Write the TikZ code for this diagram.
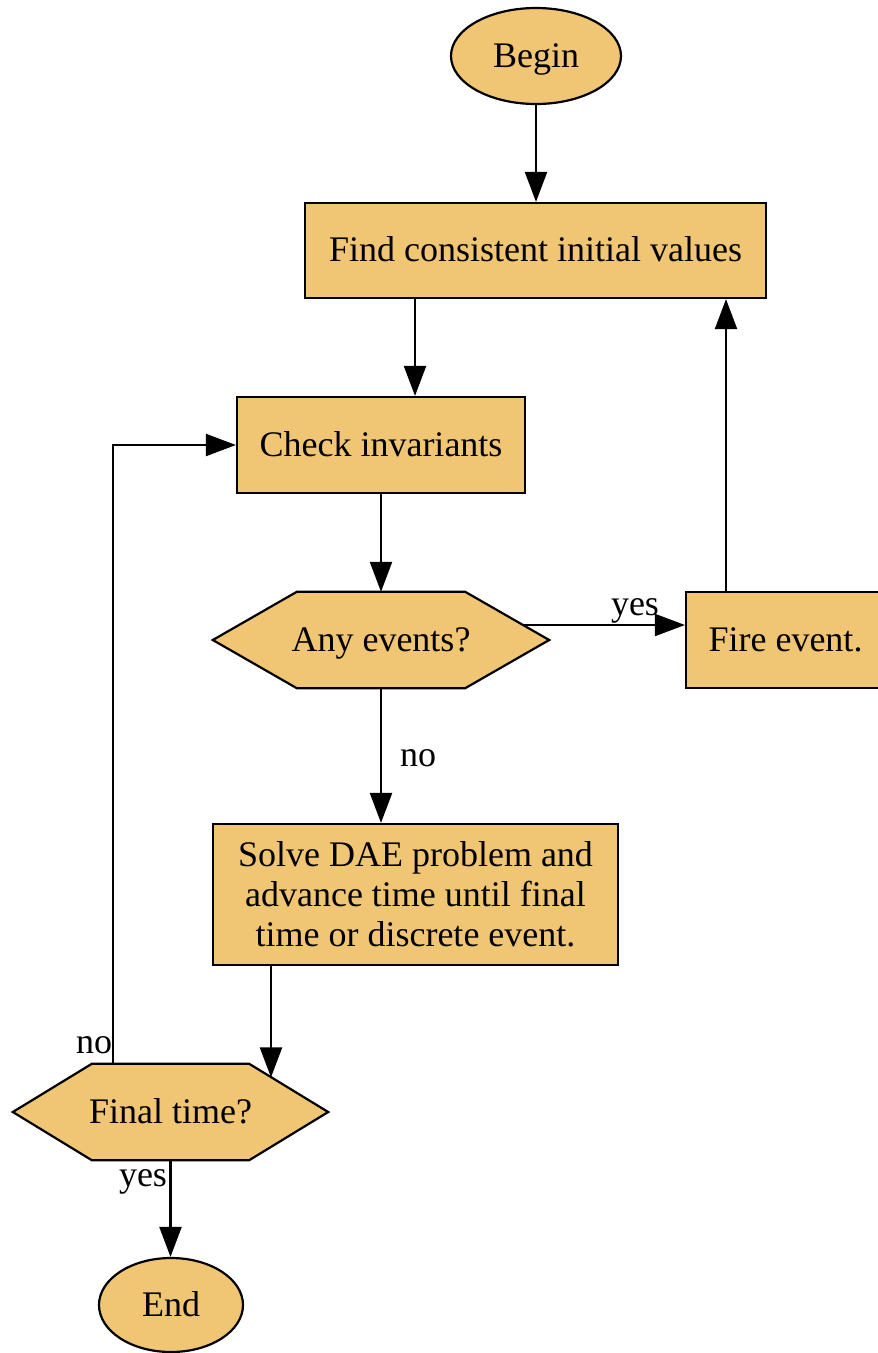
\documentclass[tikz,border=0pt]{standalone}
\usepackage{fontspec}
\setmainfont{Liberation Serif}
\usetikzlibrary{arrows.meta,shapes.geometric,backgrounds}
\definecolor{boxfill}{RGB}{240,198,116}
% hexagon outline drawn round a named node; #2 is the inset of the slanted sides
\newcommand\hexaround[2]{%
  \draw[hexline] (#1.west) -- ([xshift=#2]#1.north west) -- ([xshift=-#2]#1.north east)
    -- (#1.east) -- ([xshift=-#2]#1.south east) -- ([xshift=#2]#1.south west) -- cycle;}
\begin{document}
\begin{tikzpicture}[x=1pt,y=-1pt,
  every node/.style={font=\fontsize{36}{40}\selectfont},
  oneline/.style={text height=31pt, text depth=9pt},
  shapebox/.style={draw=black, fill=boxfill, line width=2.2pt, inner sep=0pt, align=center},
  procbox/.style={shapebox, rectangle},
  termbox/.style={shapebox, ellipse, oneline},
  decbox/.style={rectangle, inner sep=0pt, align=center, oneline},
  hexline/.style={draw=black, fill=boxfill, line width=2.2pt},
  flow/.style={line width=2.2pt, -{Triangle[length=30pt,width=22pt]}},
  lbl/.style={inner sep=0pt, anchor=base}
]
\useasboundingbox (0,0) rectangle (878,1353);
\clip (0,0) rectangle (878,1353);

% nodes
\node[termbox, minimum width=170pt, minimum height=96pt] (begin) at (536,56) {Begin};
\node[procbox, oneline, minimum width=461pt, minimum height=95pt] (find) at (535.5,250.5) {Find consistent initial values};
\node[procbox, oneline, minimum width=288pt, minimum height=96pt] (check) at (381,445) {Check invariants};
\node[decbox, minimum width=336pt, minimum height=96pt] (any) at (381,640) {Any events?};
\node[procbox, oneline, minimum width=199pt, minimum height=96pt] (fire) at (785.5,640) {Fire event.};
\node[procbox, minimum width=405pt, minimum height=141pt] (solve) at (415.5,894.5)
  {Solve DAE problem and\\advance time until final\\time or discrete event.};
\node[decbox, minimum width=315pt, minimum height=96pt] (final) at (170.5,1112) {Final time?};
\node[termbox, minimum width=144pt, minimum height=94pt] (end) at (171,1305) {End};

\begin{pgfonlayer}{background}
  \hexaround{any}{84pt}
  \hexaround{final}{79pt}
\end{pgfonlayer}

% points on the slanted sides of the hexagons
\coordinate (anyyes) at (522.75,625);
\coordinate (finne) at (271,1077.4);

% connectors
\draw[flow] (begin.south) -- (begin.south |- find.north);
\draw[flow] ([xshift=-120.5pt]find.south) -- ([xshift=34pt]check.north);
\draw[flow] (check.south) -- (any.north);
\draw[flow] (anyyes) -- (anyyes -| fire.west);
\draw[flow] ([xshift=-59.5pt]fire.north) -- ([xshift=-59.5pt]fire.north |- find.south);
\draw[flow] (any.south) -- (any.south |- solve.north);
\draw[flow] ([xshift=-144.5pt]solve.south) -- (finne);
\draw[flow] ([xshift=-57.5pt]final.north) |- (check.west);
\draw[flow] (final.south) -- (final.south |- end.north);

% connector labels
\node[lbl] (lyes1) at (635,615) {yes};
\node[lbl] (lno1) at (418,766.5) {no};
\node[lbl] (lno2) at (94,1053) {no};
\node[lbl] (lyes2) at (143,1186.5) {yes};
\end{tikzpicture}
\end{document}
